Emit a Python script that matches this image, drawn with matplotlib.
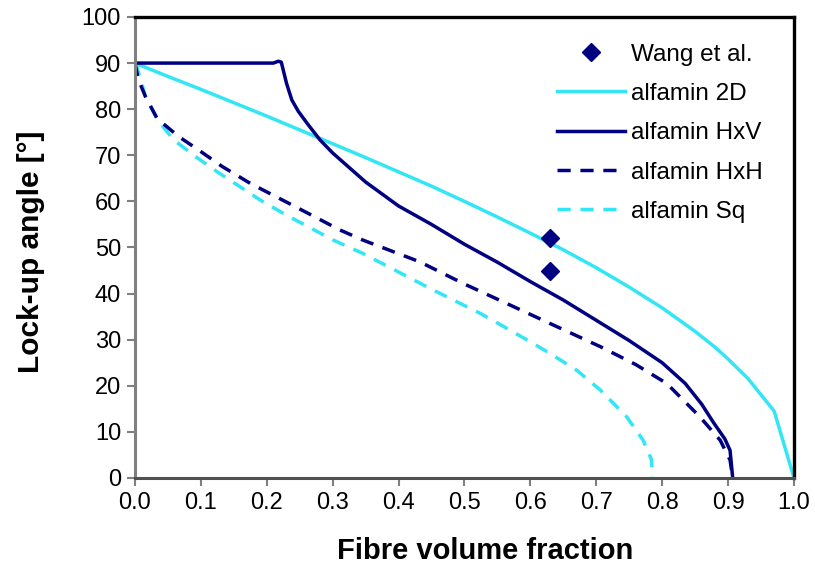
import matplotlib
matplotlib.use('Agg')
import matplotlib.pyplot as plt

plt.rcParams['font.family'] = ['Liberation Sans', 'DejaVu Sans']

# Wang et al. measurements
wang_vf = [0.63, 0.63]
wang_angle = [52.0, 45.0]

# alfamin 2D
vf_2d = [0.0, 0.05, 0.1, 0.15, 0.2, 0.25, 0.3, 0.35, 0.4, 0.45, 0.5, 0.55,
         0.6, 0.65, 0.7, 0.75, 0.8, 0.85, 0.88, 0.9, 0.93, 0.97, 1.0]
angle_2d = [90.0, 87.1, 84.3, 81.4, 78.5, 75.5, 72.5, 69.5, 66.4, 63.3, 60.0, 56.6,
            53.1, 49.5, 45.6, 41.4, 36.9, 31.8, 28.4, 25.8, 21.6, 14.5, 0.0]

# alfamin HxV
vf_hxv = [0.0, 0.1, 0.2, 0.21, 0.2175, 0.222, 0.225, 0.23, 0.238, 0.248, 0.263,
          0.281, 0.3, 0.35, 0.4, 0.45, 0.5, 0.55, 0.6, 0.65, 0.7, 0.75, 0.8,
          0.835, 0.86, 0.878, 0.895, 0.903, 0.907]
angle_hxv = [90.0, 90.0, 90.0, 90.0, 90.4, 90.2, 88.5, 85.6, 82.0, 79.5, 76.6,
             73.3, 70.5, 64.2, 59.0, 55.0, 50.7, 46.8, 42.6, 38.6, 34.2, 29.8, 25.0,
             20.5, 16.0, 12.0, 8.5, 6.0, 0.0]

# alfamin HxH
vf_hxh = [0.0, 0.005, 0.016, 0.034, 0.067, 0.1, 0.132, 0.175, 0.24, 0.311, 0.346,
          0.432, 0.498, 0.574, 0.63, 0.706, 0.76, 0.807, 0.857, 0.888, 0.903, 0.907]
angle_hxh = [90.0, 86.5, 82.7, 77.9, 74.0, 70.8, 67.6, 63.9, 59.1, 53.8, 51.6,
             46.9, 42.2, 37.2, 33.5, 28.5, 24.6, 20.5, 13.3, 8.2, 3.9, 0.0]

# alfamin Sq
vf_sq = [0.0, 0.0035, 0.016, 0.034, 0.059, 0.092, 0.125, 0.19, 0.23, 0.301, 0.346,
         0.448, 0.524, 0.554, 0.599, 0.63, 0.67, 0.706, 0.746, 0.771, 0.784, 0.785]
angle_sq = [90.0, 88.9, 82.7, 77.7, 73.3, 69.7, 66.4, 60.3, 57.0, 51.6, 48.7,
            41.1, 35.7, 33.3, 29.6, 27.0, 23.4, 19.1, 13.3, 8.2, 3.9, 0.0]

cyan = '#33E6F6'
navy = '#000080'

fig = plt.figure(figsize=(8.15, 5.66), dpi=100)
ax = fig.add_axes([0.1656, 0.1555, 0.8086, 0.8145])

lw = 2.5
dash = (3.8, 2.8)
l_sq, = ax.plot(vf_sq, angle_sq, color=cyan, lw=lw, dashes=dash, label='alfamin Sq')
l_hxh, = ax.plot(vf_hxh, angle_hxh, color=navy, lw=lw, dashes=dash, label='alfamin HxH')
l_2d, = ax.plot(vf_2d, angle_2d, color=cyan, lw=lw, label='alfamin 2D')
l_hxv, = ax.plot(vf_hxv, angle_hxv, color=navy, lw=lw, label='alfamin HxV')
l_wang, = ax.plot(wang_vf, wang_angle, 'D', color=navy, ms=9.5, ls='none', label='Wang et al.')

ax.set_xlim(0, 1)
ax.set_ylim(0, 100)
ax.set_xticks([i / 10 for i in range(11)])
ax.set_xticklabels([f'{i / 10:.1f}' for i in range(11)])
ax.set_yticks(range(0, 101, 10))

for side in ['top', 'right']:
    ax.spines[side].set_color('black')
    ax.spines[side].set_linewidth(2.4)
ax.spines['left'].set_color('#808080')
ax.spines['left'].set_linewidth(2.2)
ax.spines['bottom'].set_color('#505050')
ax.spines['bottom'].set_linewidth(2.2)

ax.tick_params(direction='out', length=6, width=1.5, color='#808080',
               labelsize=17, pad=4)

ax.set_xlabel('Fibre volume fraction', fontsize=21, fontweight='bold', va='top')
ax.set_ylabel('Lock-up angle [°]', fontsize=21.5, fontweight='bold')
ax.xaxis.set_label_coords(0.531, -0.128)
ax.yaxis.set_label_coords(-0.137, 0.49)

ax.legend(handles=[l_wang, l_2d, l_hxv, l_hxh, l_sq], loc='upper left',
          bbox_to_anchor=(0.64, 0.942), frameon=False, fontsize=17.5,
          handlelength=2.8, handletextpad=0.25, labelspacing=0.71,
          borderpad=0, borderaxespad=0)

fig.savefig('out.png', dpi=100)
